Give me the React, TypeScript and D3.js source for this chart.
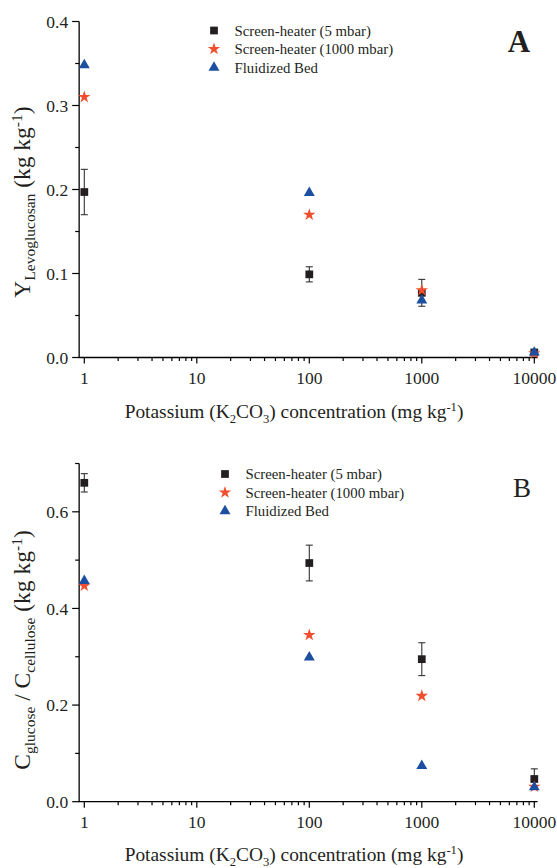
import React from "react";
import * as d3 from "d3";

const concentrations = [1, 100, 1000, 10000];

// Panel A: levoglucosan yield
const shLowA = [0.197, 0.099, 0.077, 0.006];
const shLowAErr = [0.027, 0.009, 0.016, 0.003];
const shHighA = [0.31, 0.17, 0.08, 0.005];
const fbA = [0.348, 0.196, 0.068, 0.006];

// Panel B: glucose / cellulose
const shLowB = [0.66, 0.494, 0.295, 0.047];
const shLowBErr = [0.019, 0.037, 0.034, 0.021];
const shHighB = [0.447, 0.345, 0.219, 0.031];
const fbB = [0.457, 0.299, 0.074, 0.03];

const seriesNames = ["Screen-heater (5 mbar)", "Screen-heater (1000 mbar)", "Fluidized Bed"];
const xTickValues = [1, 10, 100, 1000, 10000];
const yTicksA = [0, 0.1, 0.2, 0.3, 0.4];
const yMinorA = [0.05, 0.15, 0.25, 0.35];
const yTicksB = [0, 0.2, 0.4, 0.6];
const yMinorB = [0.1, 0.3, 0.5, 0.7];

const FONT = "'Liberation Serif', 'Times New Roman', serif";
const COL_SQ = "#231f20";
const COL_STAR = "#f04e2e";
const COL_TRI = "#1d4fa0";

const xScale = d3.scaleLog().domain([1, 10000]).range([84.3, 534.3]);
const xMin = 0.9;
const xMax = 10700;
const yAxisX = xScale(xMin);

const sqPath = d3.symbol(d3.symbolSquare, 60)()!;
const starPath = d3.symbol(d3.symbolStar, 48)()!;
const triPath = d3.symbol(d3.symbolTriangle, 52)()!;

const xMinor: number[] = [];
for (let dec = 1; dec < 10000; dec *= 10) {
  for (let m = 2; m <= 9; m++) xMinor.push(dec * m);
}

const TF = 23.5; // y title main size
const TS = 15.5; // y title subscript size

type PanelProps = {
  y: d3.ScaleLinear<number, number>;
  majors: number[];
  minors: number[];
  low: number[];
  lowErr: number[];
  high: number[];
  fb: number[];
  legendX: number;
  legendY: number;
  letter: string;
  letterBold: boolean;
  letterX: number;
  letterY: number;
  letterSize: number;
  yTitle: React.ReactNode;
  yTitleCenter: number;
  xTitleY: number;
};

function Panel(p: PanelProps) {
  const y0 = p.y(0);
  const yTop = p.y.range()[1];
  return (
    <g>
      {/* Y axis */}
      <line x1={yAxisX} x2={yAxisX} y1={y0} y2={yTop} stroke="#000" strokeWidth={1.3} />
      {p.majors.map((v) => (
        <g key={"ym" + v}>
          <line x1={yAxisX - 7} x2={yAxisX} y1={p.y(v)} y2={p.y(v)} stroke="#000" strokeWidth={1.2} />
          <text x={yAxisX - 11} y={p.y(v)} dy="0.35em" textAnchor="end" fontSize={17.5} fontFamily={FONT} fill="#231f20">
            {d3.format(".1f")(v)}
          </text>
        </g>
      ))}
      {p.minors.map((v) => (
        <line key={"yn" + v} x1={yAxisX - 4} x2={yAxisX} y1={p.y(v)} y2={p.y(v)} stroke="#000" strokeWidth={1.2} />
      ))}
      {/* X axis */}
      <line x1={yAxisX - 0.6} x2={xScale(xMax)} y1={y0} y2={y0} stroke="#000" strokeWidth={1.3} />
      {xTickValues.map((v) => (
        <g key={"xm" + v}>
          <line x1={xScale(v)} x2={xScale(v)} y1={y0} y2={y0 + 6} stroke="#000" strokeWidth={1.2} />
          <text x={xScale(v)} y={y0 + 26.5} textAnchor="middle" fontSize={17.5} fontFamily={FONT} fill="#231f20">
            {String(v)}
          </text>
        </g>
      ))}
      {xMinor.map((v) => (
        <line key={"xn" + v} x1={xScale(v)} x2={xScale(v)} y1={y0} y2={y0 + 3.5} stroke="#000" strokeWidth={1.2} />
      ))}
      {/* X title */}
      <text x={294} y={p.xTitleY} textAnchor="middle" fontSize={19.4} fontFamily={FONT} fill="#231f20">
        Potassium (K<tspan dy={4.5} fontSize={12.6}>2</tspan>
        <tspan dy={-4.5}>CO</tspan>
        <tspan dy={4.5} fontSize={12.6}>3</tspan>
        <tspan dy={-4.5}>) concentration (mg kg</tspan>
        <tspan dy={-7.5} fontSize={12.6}>-1</tspan>
        <tspan dy={7.5}>)</tspan>
      </text>
      {/* Y title */}
      <text
        transform={`translate(30, ${p.yTitleCenter}) rotate(-90)`}
        textAnchor="middle"
        fontSize={TF}
        fontFamily={FONT}
        fill="#231f20"
      >
        {p.yTitle}
      </text>
      {/* Error bars */}
      {concentrations.map((c, i) => {
        const cx = xScale(c);
        const t = p.y(p.low[i] + p.lowErr[i]);
        const b = p.y(p.low[i] - p.lowErr[i]);
        return (
          <g key={"err" + i} stroke="#333" strokeWidth={1.1}>
            <line x1={cx} x2={cx} y1={t} y2={b} />
            <line x1={cx - 3.5} x2={cx + 3.5} y1={t} y2={t} />
            <line x1={cx - 3.5} x2={cx + 3.5} y1={b} y2={b} />
          </g>
        );
      })}
      {concentrations.map((c, i) => (
        <path key={"sq" + i} d={sqPath} transform={`translate(${xScale(c)},${p.y(p.low[i])})`} fill={COL_SQ} />
      ))}
      {concentrations.map((c, i) => (
        <path key={"st" + i} d={starPath} transform={`translate(${xScale(c)},${p.y(p.high[i])})`} fill={COL_STAR} />
      ))}
      {concentrations.map((c, i) => (
        <path key={"tr" + i} d={triPath} transform={`translate(${xScale(c)},${p.y(p.fb[i])})`} fill={COL_TRI} />
      ))}
      {/* Legend */}
      {seriesNames.map((name, i) => {
        const ly = p.legendY + i * 18.5;
        const d = i === 0 ? sqPath : i === 1 ? starPath : triPath;
        const col = i === 0 ? COL_SQ : i === 1 ? COL_STAR : COL_TRI;
        return (
          <g key={"lg" + i}>
            <path d={d} transform={`translate(${p.legendX},${ly})`} fill={col} />
            <text x={p.legendX + 20.5} y={ly} dy="0.35em" fontSize={14.8} fontFamily={FONT} fill="#231f20">
              {name}
            </text>
          </g>
        );
      })}
      <text
        x={p.letterX}
        y={p.letterY}
        textAnchor="middle"
        fontSize={p.letterSize}
        fontWeight={p.letterBold ? "bold" : "normal"}
        fontFamily={FONT}
        fill="#231f20"
      >
        {p.letter}
      </text>
    </g>
  );
}

export default function App() {
  const yA = d3.scaleLinear().domain([0, 0.4]).range([357.5, 21.5]);
  const yB = d3.scaleLinear().domain([0, 0.7]).range([801.7, 463.5]);
  return (
    <div style={{ position: "absolute", left: 0, top: 0 }}>
      <svg width={557} height={868} style={{ display: "block", background: "#fff" }}>
        <Panel
          y={yA}
          majors={yTicksA}
          minors={yMinorA}
          low={shLowA}
          lowErr={shLowAErr}
          high={shHighA}
          fb={fbA}
          legendX={214}
          legendY={30.5}
          letter="A"
          letterBold={true}
          letterX={519}
          letterY={52}
          letterSize={31}
          yTitleCenter={202}
          xTitleY={418}
          yTitle={
            <>
              Y<tspan dy={5} fontSize={TS}>Levoglucosan</tspan>
              <tspan dy={-5}> (kg kg</tspan>
              <tspan dy={-8} fontSize={TS}>-1</tspan>
              <tspan dy={8}>)</tspan>
            </>
          }
        />
        <Panel
          y={yB}
          majors={yTicksB}
          minors={yMinorB}
          low={shLowB}
          lowErr={shLowBErr}
          high={shHighB}
          fb={fbB}
          legendX={225}
          legendY={474}
          letter="B"
          letterBold={false}
          letterX={522}
          letterY={497}
          letterSize={27}
          yTitleCenter={650}
          xTitleY={861}
          yTitle={
            <>
              C<tspan dy={5} fontSize={TS}>glucose</tspan>
              <tspan dy={-5}> / C</tspan>
              <tspan dy={5} fontSize={TS}>cellulose</tspan>
              <tspan dy={-5}> (kg kg</tspan>
              <tspan dy={-8} fontSize={TS}>-1</tspan>
              <tspan dy={8}>)</tspan>
            </>
          }
        />
      </svg>
    </div>
  );
}
